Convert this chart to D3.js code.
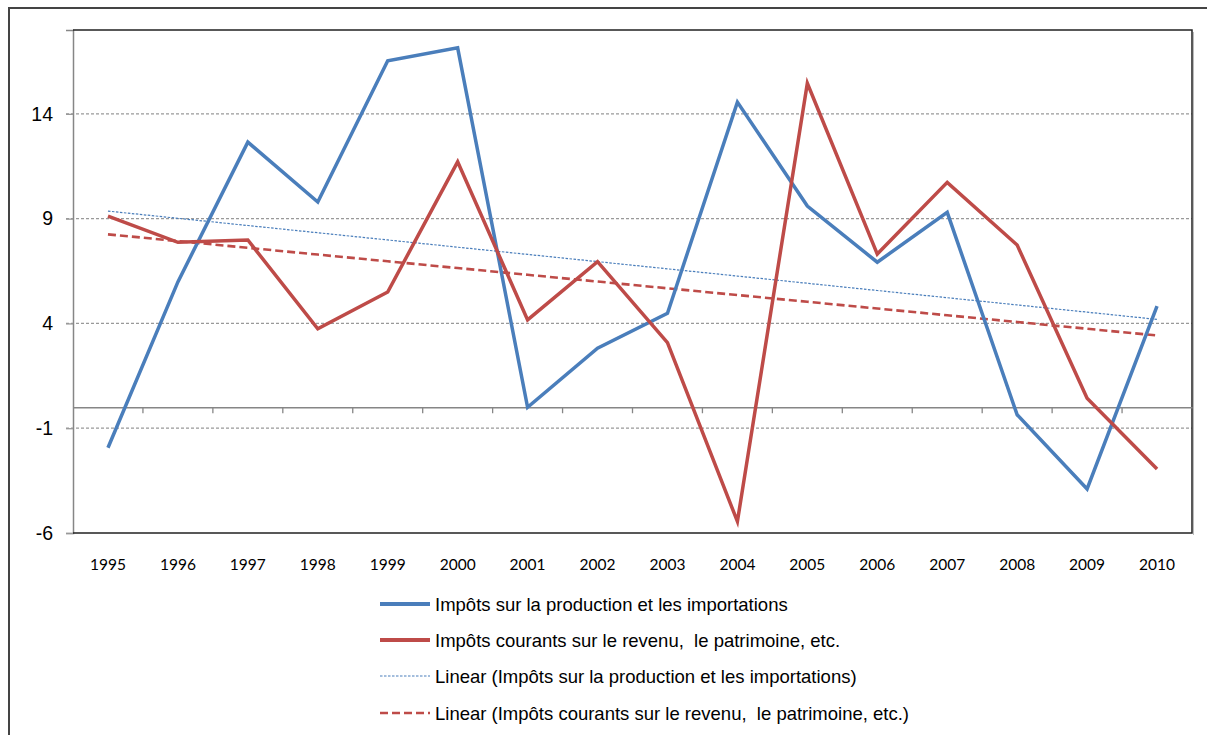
<!DOCTYPE html>
<html>
<head>
<meta charset="utf-8">
<script src="https://cdn.jsdelivr.net/npm/d3@7"></script>
<style>
  body { margin: 0; background: #fff; }
  svg { display: block; }
</style>
</head>
<body>
<div id="chart"></div>
<script>
// values
const years = ['1995', '1996', '1997', '1998', '1999', '2000', '2001', '2002',
  '2003', '2004', '2005', '2006', '2007', '2008', '2009', '2010'];
const production = [-1.93, 5.98, 12.65, 9.79, 16.53, 17.15, 0.0, 2.82,
  4.48, 14.56, 9.6, 6.92, 9.3, -0.36, -3.9, 4.83];
const revenu = [9.12, 7.87, 7.98, 3.74, 5.5, 11.71, 4.17, 6.95,
  3.08, -5.45, 15.46, 7.31, 10.73, 7.74, 0.43, -2.95];
const yTicks = [-6, -1, 4, 9, 14];
const legendLabels = [
  'Impôts sur la production et les importations',
  'Impôts courants sur le revenu,  le patrimoine, etc.',
  'Linear (Impôts sur la production et les importations)',
  'Linear (Impôts courants sur le revenu,  le patrimoine, etc.)'
];

const width = 1207, height = 735;
const plot = { left: 73, top: 30, right: 1192, bottom: 533 };
const blue = '#4a7ebb', red = '#be4b48';

const svg = d3.select('#chart')
  .append('svg')
  .attr('width', width)
  .attr('height', height);

// outer frame (only top and left edges are visible)
svg.append('path')
  .attr('d', `M9,${height} V8 H${width}`)
  .attr('fill', 'none')
  .attr('stroke', '#444')
  .attr('stroke-width', 2);

const x = d3.scaleBand().domain(years).range([plot.left, plot.right]);
const y = d3.scaleLinear().domain([-6, 18]).range([plot.bottom, plot.top]);

// least squares trend for a series
function trend(values) {
  const n = values.length;
  const mx = (n - 1) / 2;
  const my = d3.mean(values);
  let sxy = 0, sxx = 0;
  values.forEach((v, i) => { sxy += (i - mx) * (v - my); sxx += (i - mx) * (i - mx); });
  const b = sxy / sxx;
  return values.map((v, i) => my + b * (i - mx));
}

// horizontal grid lines with outward ticks
svg.append('g')
  .selectAll('line')
  .data(yTicks.filter(d => d !== -6))
  .enter()
  .append('line')
  .attr('x1', plot.left - 7)
  .attr('x2', plot.right)
  .attr('y1', d => y(d))
  .attr('y2', d => y(d))
  .attr('stroke', '#999')
  .attr('stroke-width', 1.3)
  .attr('stroke-dasharray', '3,2');

// y axis
const yAxis = svg.append('g')
  .attr('transform', `translate(${plot.left},0)`)
  .call(d3.axisLeft(y).tickValues(yTicks).tickSize(7).tickPadding(13).tickFormat(d => String(d)));
yAxis.select('.domain').attr('stroke', '#868686').attr('stroke-width', 1.5);
yAxis.selectAll('.tick line').attr('stroke', '#999').attr('stroke-width', 1.3);
yAxis.selectAll('text')
  .attr('fill', '#000')
  .style('font-family', 'Liberation Sans, Arial, sans-serif')
  .style('font-size', '19.5px');

// plot area border (top, right, bottom)
svg.append('path')
  .attr('d', `M${plot.left},${plot.top} H${plot.right} V${plot.bottom} H${plot.left}`)
  .attr('fill', 'none')
  .attr('stroke', '#222')
  .attr('stroke-width', 1.5);
svg.append('line')
  .attr('x1', plot.right + 1.5).attr('x2', plot.right + 1.5)
  .attr('y1', plot.top + 2).attr('y2', plot.bottom + 2)
  .attr('stroke', '#bbb').attr('stroke-width', 1);

// zero axis with category ticks
const xAxis = svg.append('g')
  .attr('transform', `translate(0,${y(0)})`)
  .call(d3.axisBottom(x).tickSize(0).tickFormat(''));
xAxis.select('.domain').attr('stroke', '#868686').attr('stroke-width', 1.5);
svg.append('g')
  .selectAll('line')
  .data(years.slice(1))
  .enter()
  .append('line')
  .attr('x1', d => x(d))
  .attr('x2', d => x(d))
  .attr('y1', y(0))
  .attr('y2', y(0) + 6)
  .attr('stroke', '#868686')
  .attr('stroke-width', 1.3);

// category labels at the bottom
svg.append('g')
  .selectAll('text')
  .data(years)
  .enter()
  .append('text')
  .attr('x', d => x(d) + x.bandwidth() / 2)
  .attr('y', 570)
  .attr('text-anchor', 'middle')
  .style('font-family', 'Lato, sans-serif')
  .style('font-size', '15.5px')
  .text(d => d);

const line = d3.line()
  .x((d, i) => x(years[i]) + x.bandwidth() / 2)
  .y(d => y(d));

const series = [
  { values: production, color: blue, width: 3.5, dash: null },
  { values: revenu, color: red, width: 3.5, dash: null },
  { values: trend(production), color: blue, width: 1.2, dash: '2.5,1.5' },
  { values: trend(revenu), color: red, width: 2.6, dash: '8,4' }
];

// draw trend lines first, then the data lines over them
[2, 3, 0, 1].forEach(k => {
  const s = series[k];
  svg.append('path')
    .datum(s.values)
    .attr('d', line)
    .attr('fill', 'none')
    .attr('stroke', s.color)
    .attr('stroke-width', s.width)
    .attr('stroke-linejoin', 'miter')
    .attr('stroke-dasharray', s.dash);
});

// legend
const legendY = [604, 640, 676, 713];
const legend = svg.append('g')
  .selectAll('g')
  .data(series)
  .enter()
  .append('g')
  .attr('transform', (d, i) => `translate(380,${legendY[i]})`);
legend.append('line')
  .attr('x1', 0).attr('x2', 50)
  .attr('stroke', d => d.color)
  .attr('stroke-width', d => d.width === 1.2 ? 1.2 : (d.dash ? 2.6 : 4))
  .attr('stroke-dasharray', d => d.dash);
legend.append('text')
  .attr('x', 55)
  .attr('y', 6.5)
  .style('font-family', 'Liberation Sans, Arial, sans-serif')
  .style('font-size', '18.5px')
  .style('white-space', 'pre')
  .text((d, i) => legendLabels[i]);
</script>
</body>
</html>
